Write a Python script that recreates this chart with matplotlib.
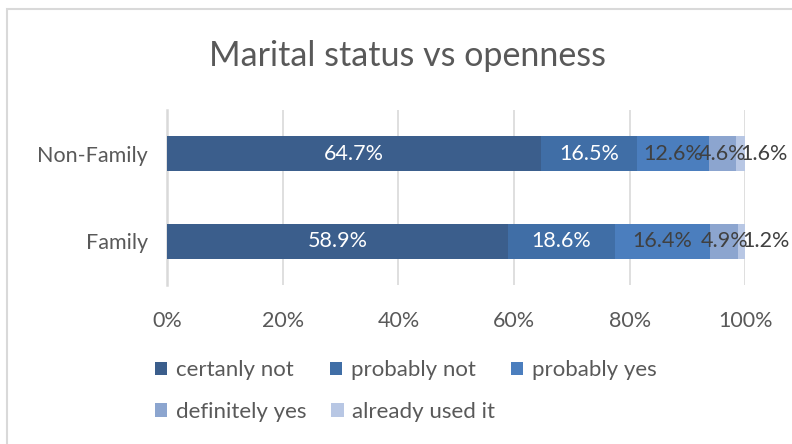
import matplotlib
matplotlib.use("Agg")
import matplotlib.pyplot as plt
from matplotlib.patches import Rectangle
import numpy as np

plt.rcParams['font.family'] = ['Lato', 'DejaVu Sans']

groups = ["Family", "Non-Family"]
answers = ["certanly not", "probably not", "probably yes",
           "definitely yes", "already used it"]
# share of each answer per group, in percent
shares = {
    "certanly not":    [58.9, 64.7],
    "probably not":    [18.6, 16.5],
    "probably yes":    [16.4, 12.6],
    "definitely yes":  [4.9, 4.6],
    "already used it": [1.2, 1.6],
}
colors = ["#3B5E8C", "#406EA6", "#4B7EBE", "#8CA5CF", "#B8C7E4"]
label_colors = ["white", "white", "#404040", "#404040", "#404040"]
ticks = [0, 20, 40, 60, 80, 100]

grey = "#595959"

fig = plt.figure(figsize=(7.92, 4.44), dpi=100)
ax = fig.add_axes([0.211, 0.358, 0.730, 0.394])

y = np.arange(len(groups))
left = np.zeros(len(groups))
handles = []
for i, name in enumerate(answers):
    vals = np.array(shares[name])
    bars = ax.barh(y, vals, left=left, height=0.4, color=colors[i],
                   label=name, zorder=3)
    handles.append(bars)
    for yy, v, l in zip(y, vals, left):
        ha = "left" if i == len(answers) - 1 else "center"
        ax.text(l + v / 2, yy, f"{v:.1f}%", ha=ha, va="center",
                color=label_colors[i], fontsize=15.5, zorder=4)
    left += vals

ax.set_xlim(0, 100)
ax.set_ylim(-0.5, 1.5)
ax.set_xticks(ticks)
ax.set_xticklabels([f"{t}%" for t in ticks])
ax.set_yticks(y)
ax.set_yticklabels(groups)
ax.tick_params(axis="x", length=0, pad=19, labelsize=15.5, labelcolor=grey)
ax.tick_params(axis="y", length=0, pad=14, labelsize=15.5, labelcolor=grey)
ax.grid(axis="x", color="#D9D9D9", linewidth=1.2, zorder=0)
for side in ["top", "right", "bottom"]:
    ax.spines[side].set_visible(False)
ax.spines["left"].set_color("#D9D9D9")
ax.spines["left"].set_linewidth(1.8)
ax.spines["left"].set_zorder(2)

fig.text(0.514, 0.874, "Marital status vs openness", ha="center", va="center",
         fontsize=24.5, color=grey)

# legend: three entries on the first row, two on the second
leg_kw = dict(loc="center left", frameon=False, fontsize=16, labelcolor=grey,
              handlelength=0.55, handleheight=0.55, handletextpad=0.4,
              borderpad=0, borderaxespad=0)
fig.legend(handles[:3], answers[:3], ncol=3, bbox_to_anchor=(0.196, 0.166),
           columnspacing=1.6, **leg_kw)
fig.legend(handles[3:], answers[3:], ncol=2, bbox_to_anchor=(0.196, 0.072),
           columnspacing=1.1, **leg_kw)

# chart border
fig.add_artist(Rectangle((7 / 792, -0.1), 2, 1.1 - 9 / 444,
                         transform=fig.transFigure, fill=False,
                         edgecolor="#D9D9D9", linewidth=1.5))

fig.savefig("out.png", dpi=100)
